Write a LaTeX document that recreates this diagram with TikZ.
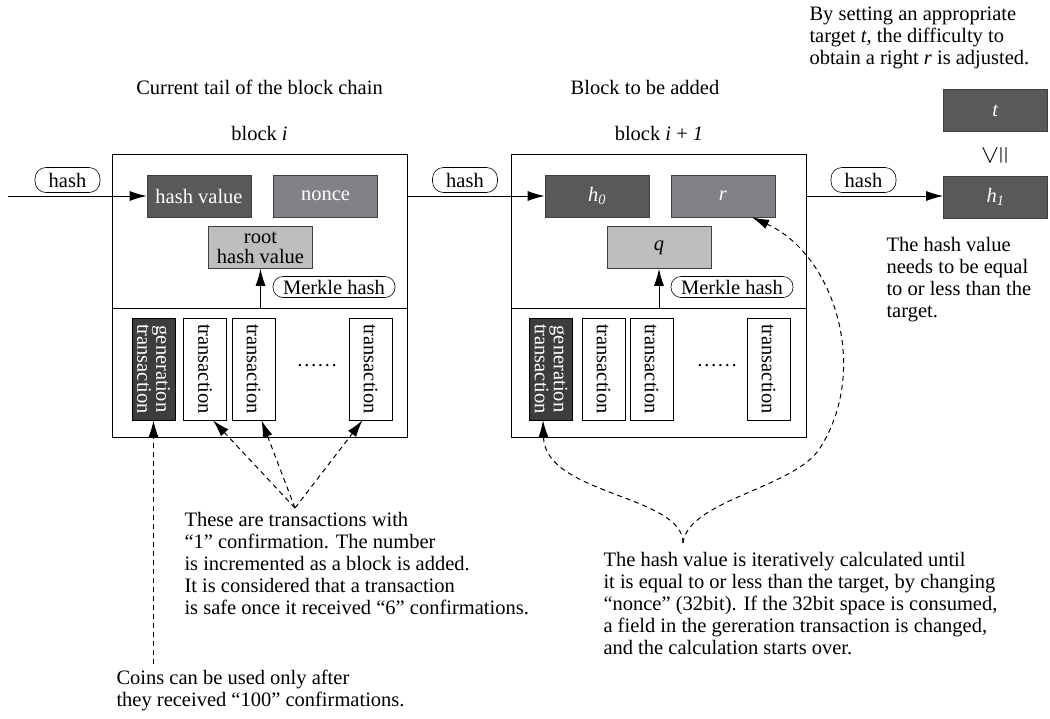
\documentclass[tikz,border=0pt]{standalone}
\usepackage{fontspec}
\setmainfont{Liberation Serif}
\usepackage{amssymb}
\usetikzlibrary{arrows.meta}
\definecolor{darkfield}{HTML}{58595B}
\definecolor{midfield}{HTML}{808285}
\definecolor{lightfield}{HTML}{BCBEC0}
\definecolor{genfield}{HTML}{3D3D3F}
\begin{document}
\begin{tikzpicture}[x=1pt,y=-1pt,line width=1pt,
  font=\fontsize{20.5}{22}\selectfont,
  pointer/.style={-{Latex[length=17pt,width=10pt]}},
  blockbox/.style={draw,minimum width=295pt,inner sep=0pt},
  field/.style={draw=black!75,line width=0.6pt,minimum width=104pt,minimum height=42pt,inner sep=0pt},
  txbox/.style={draw,line width=0.6pt,fill=white,rotate=-90,minimum width=102pt,minimum height=43pt,inner sep=0pt},
  genbox/.style={txbox,fill=genfield,text=white,align=center,font=\fontsize{20.5}{17}\selectfont},
  hashtag/.style={draw,line width=0.6pt,fill=white,rounded corners=11pt,minimum width=65pt,minimum height=25pt,inner sep=2pt},
  merkletag/.style={hashtag,minimum width=122pt,minimum height=21pt,rounded corners=10pt},
  note/.style={anchor=north west,align=left,inner sep=0pt},
  hint/.style={dashed,dash pattern=on 5pt off 4pt}]
\useasboundingbox (0,0) rectangle (1050,718);

\node[blockbox,minimum height=154pt] (blkA) at (259.5,231) {};
\node[blockbox,minimum height=129pt] (blkAlow) at (259.5,372.5) {};
\node[blockbox,minimum height=154pt] (blkB) at (658.5,231) {};
\node[blockbox,minimum height=129pt] (blkBlow) at (658.5,372.5) {};

\node (titA) at (259.5,87) {Current tail of the block chain};
\node (nameA) at (259.5,133) {block \textit{i}};
\node (titB) at (645,87) {Block to be added};
\node (nameB) at (659,133) {block \textit{i} + \textit{1}};

\node[field,fill=darkfield,text=white] (hv) at (199,196) {hash value};
\node[field,fill=midfield,text=white] (nonce) at (325.5,196) {nonce};
\node[field,fill=lightfield,align=center,font=\fontsize{20.5}{20}\selectfont] (root) at (260.5,247.5) {root\\hash value};
\node[field,fill=darkfield,text=white] (h0) at (597,196) {\textit{h\textsubscript{0}}};
\node[field,fill=midfield,text=white] (r) at (723,196) {\textit{r}};
\node[field,fill=lightfield] (q) at (659,247.5) {\textit{q}};
\node[field,fill=darkfield,text=white] (t) at (995.5,110.5) {\textit{t}};
\node[field,fill=darkfield,text=white] (h1) at (995.5,197) {\textit{h\textsubscript{1}}};
\node[rotate=90,inner sep=0pt,font=\fontsize{26}{26}\selectfont] (le) at (995.5,155) {$\leqq$};

\node[genbox] (ga) at (153.5,369) {generation\\transaction};
\node[txbox] (ta2) at (205,369) {transaction};
\node[txbox] (ta3) at (253.5,369) {transaction};
\node (dotsA) at (317,366) {\dots\dots};
\node[txbox] (ta4) at (370.5,369) {transaction};
\node[genbox] (gb) at (551,369) {generation\\transaction};
\node[txbox] (tb2) at (603.5,369) {transaction};
\node[txbox] (tb3) at (651.5,369) {transaction};
\node (dotsB) at (717,366) {\dots\dots};
\node[txbox] (tb4) at (768.5,369) {transaction};

\coordinate (start) at (8,196);
\draw[pointer] (start) -- (hv.west);
\draw[pointer] (blkA.east |- h0.west) -- (h0.west);
\draw[pointer] (blkB.east |- h0.west) -- (h1.west |- h0.west);
\node[hashtag] (hs1) at (67.5,180) {hash};
\node[hashtag] (hs2) at (465,180) {hash};
\node[hashtag] (hs3) at (863.5,180) {hash};

\draw[pointer] (blkAlow.north -| root.south) -- (root.south);
\draw[pointer] (blkBlow.north -| q.south) -- (q.south);
\node[merkletag] (mk1) at (334,287) {Merkle hash};
\node[merkletag] (mk2) at (732,287) {Merkle hash};

\coordinate (coinpt) at (153.5,664);
\coordinate (fan) at (295,508);
\coordinate (iter) at (683,543);
\coordinate (bend) at (820,448);
\draw[hint,pointer] (coinpt) -- (ga.east);
\draw[hint,pointer] (fan) -- ([xshift=8pt]ta2.east);
\draw[hint,pointer] (fan) -- ([xshift=8pt]ta3.east);
\draw[hint,pointer] (fan) -- ([xshift=-8pt]ta4.east);
\draw[hint,pointer] (iter) .. controls (683,495) and (545,495) .. ([xshift=-8pt]gb.east);
\draw[hint,pointer] (iter) .. controls (688,500) and (795,488) .. (bend)
  .. controls (870,370) and (835,255) .. ([xshift=29pt]r.south);

\node[note] (goalnote) at (809,6) {By setting an appropriate\\target \textit{t}, the difficulty to\\obtain a right \textit{r} is adjusted.};
\node[note] (lenote) at (886,237) {The hash value\\needs to be equal\\to or less than the\\target.};
\node[note] (fannote) at (184,512) {These are transactions with\\``1'' confirmation. The number\\is incremented as a block is added.\\It is considered that a transaction\\is safe once it received ``6'' confirmations.};
\node[note] (coinnote) at (116,670) {Coins can be used only after\\they received ``100'' confirmations.};
\node[note] (iternote) at (603,552) {The hash value is iteratively calculated until\\it is equal to or less than the target, by changing\\``nonce'' (32bit). If the 32bit space is consumed,\\a field in the gereration transaction is changed,\\and the calculation starts over.};
\end{tikzpicture}
\end{document}
